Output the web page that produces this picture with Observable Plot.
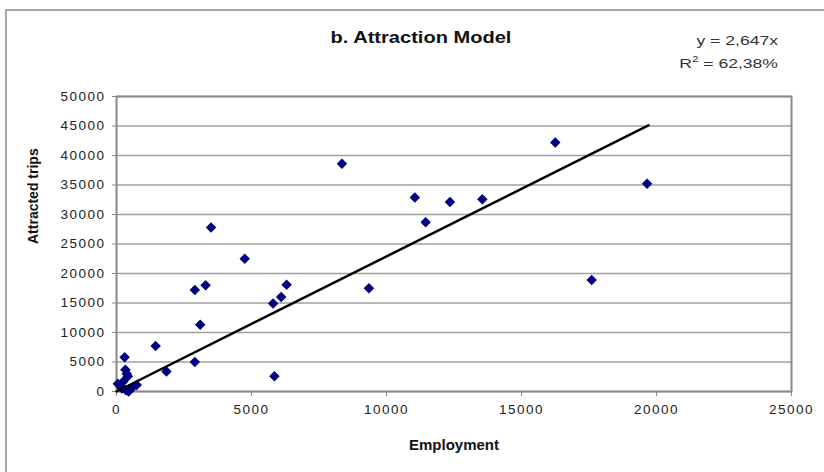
<!DOCTYPE html>
<html><head><meta charset="utf-8">
<script src="https://cdn.jsdelivr.net/npm/d3@7"></script>
<script src="https://cdn.jsdelivr.net/npm/@observablehq/plot@0.6"></script>
<style>
body{margin:0;background:#fff;font-family:"Liberation Sans",Arial,sans-serif;}
#wrap{position:relative;width:824px;height:472px;overflow:hidden;background:#fff;}
#frame{position:absolute;left:5px;top:9px;width:900px;height:600px;border:2px solid #a8a8a8;box-sizing:border-box;}
#title{position:absolute;left:421px;top:28px;font-weight:bold;font-size:17px;white-space:nowrap;transform:translateX(-50%) scaleX(1.18);color:#111;}
#eq{position:absolute;right:46px;top:29px;text-align:right;font-size:13.5px;line-height:23px;color:#333;transform:scaleX(1.3);transform-origin:right top;white-space:nowrap;}
#eq sup{font-size:9px;line-height:0;vertical-align:6px;}
#chart{position:absolute;left:0;top:0;}
#chart g[aria-label="y-axis tick label"] text,#chart g[aria-label="x-axis tick label"] text{letter-spacing:1.5px;}
</style></head>
<body>
<div id="wrap">
<div id="frame"></div>
<div id="chart"></div>
<div id="title"></div>
<div id="eq"></div>
</div>
<script>
const titleText = "b. Attraction Model";
const eqLine1 = "y = 2,647x";
const eqLine2 = "R<sup>2</sup> = 62,38%";
const xLabel = "Employment";
const yLabel = "Attracted trips";

const employment = [50, 150, 200, 250, 300, 330, 350, 380, 420, 450, 600, 750, 1450, 1850, 2900, 2900, 3100, 3300, 3500, 4750, 5800, 5850, 6100, 6300, 8350, 9350, 11050, 11450, 12350, 13550, 16250, 17600, 19650];
const trips = [1300, 900, 500, 1700, 5800, 3700, 200, 3000, 2600, 0, 700, 1100, 7700, 3400, 17200, 5000, 11300, 18000, 27800, 22500, 14900, 2600, 16000, 18100, 38600, 17500, 32900, 28700, 32100, 32600, 42200, 18900, 35200];

const trendX = [0, 19700];
const trendY = [0, 45100];

const xTicks = [0, 5000, 10000, 15000, 20000, 25000];
const yTicks = [0, 5000, 10000, 15000, 20000, 25000, 30000, 35000, 40000, 45000, 50000];

const points = employment.map((e, i) => ({x: e, y: trips[i]}));
const trend = trendX.map((e, i) => ({x: e, y: trendY[i]}));
const fmt = d3.format("d");

document.getElementById("title").textContent = titleText;
document.getElementById("eq").innerHTML = eqLine1 + "<br>" + eqLine2;

const chart = Plot.plot({
  width: 824, height: 472,
  marginLeft: 116, marginRight: 33, marginTop: 96, marginBottom: 81,
  style: {fontFamily: "'Liberation Sans', Arial, sans-serif", fontSize: "13.5px", color: "#222", background: "transparent", overflow: "visible"},
  x: {domain: [0, 25000]},
  y: {domain: [0, 50000]},
  marks: [
    Plot.gridY(yTicks, {stroke: "#a0a0a0", strokeOpacity: 1, strokeWidth: 1.6}),
    Plot.frame({stroke: "#8a8a8a", strokeWidth: 2}),
    Plot.axisY(yTicks, {tickSize: 4, tickPadding: 7, tickFormat: fmt, label: null, stroke: "#888"}),
    Plot.axisX(xTicks, {tickSize: 5, tickPadding: 8, tickFormat: fmt, label: null, stroke: "#888"}),
    Plot.dot(points, {x: "x", y: "y", symbol: "square", r: 4.2, rotate: 45, fill: "#000080", stroke: "none"}),
    Plot.line(trend, {x: "x", y: "y", stroke: "#000", strokeWidth: 2.5}),
    Plot.text([xLabel], {frameAnchor: "bottom", dy: 58, fontWeight: "bold", fontSize: 15, fill: "#111", text: d => d}),
    Plot.text([yLabel], {frameAnchor: "left", dx: -83, rotate: -90, fontWeight: "bold", fontSize: 14, fill: "#111", text: d => d})
  ]
});
document.getElementById("chart").appendChild(chart);
</script>
</body></html>
